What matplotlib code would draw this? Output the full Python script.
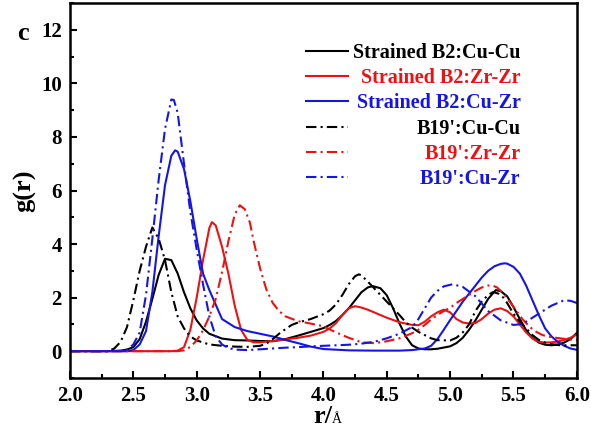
import matplotlib
matplotlib.use('Agg')
import matplotlib.pyplot as plt
from matplotlib.ticker import MultipleLocator

plt.rcParams['font.family'] = ['Liberation Serif', 'DejaVu Serif']
plt.rcParams['font.weight'] = 'bold'

# Strained B2: Cu-Cu (black solid)
r_b2_cucu = [2.0, 2.3, 2.4, 2.45, 2.5, 2.55, 2.6, 2.65, 2.7, 2.75, 2.8, 2.85, 2.9, 2.95,
             3.0, 3.05, 3.1, 3.2, 3.3, 3.4, 3.5, 3.6, 3.7, 3.8, 3.9, 4.0, 4.05, 4.1, 4.15,
             4.2, 4.25, 4.3, 4.35, 4.39, 4.45, 4.5, 4.55, 4.6, 4.65, 4.7, 4.75, 4.8, 4.85,
             4.9, 5.0, 5.05, 5.1, 5.15, 5.2, 5.25, 5.3, 5.36, 5.4, 5.45, 5.5, 5.55, 5.6,
             5.65, 5.7, 5.75, 5.8, 5.85, 5.9, 5.95, 6.0]
g_b2_cucu = [0.0, 0.0, 0.02, 0.06, 0.15, 0.45, 1.1, 1.95, 2.85, 3.45, 3.4, 2.9, 2.2, 1.6,
             1.15, 0.85, 0.65, 0.47, 0.41, 0.4, 0.38, 0.37, 0.45, 0.58, 0.72, 0.86, 0.98, 1.13, 1.35,
             1.6, 1.9, 2.2, 2.38, 2.43, 2.35, 2.09, 1.6, 1.04, 0.55, 0.22, 0.1, 0.07, 0.07,
             0.09, 0.18, 0.3, 0.5, 0.8, 1.15, 1.55, 1.95, 2.28, 2.24, 2.05, 1.65, 1.2, 0.78,
             0.5, 0.32, 0.24, 0.22, 0.25, 0.32, 0.45, 0.68]

# Strained B2: Zr-Zr (red solid)
r_b2_zrzr = [2.0, 2.8, 2.85, 2.9, 2.95, 3.0, 3.05, 3.1, 3.12, 3.15, 3.2, 3.25, 3.3, 3.35,
             3.4, 3.45, 3.5, 3.6, 3.7, 3.8, 3.9, 4.0, 4.05, 4.1, 4.15, 4.2, 4.25, 4.3, 4.35,
             4.4, 4.5, 4.6, 4.7, 4.75, 4.8, 4.85, 4.9, 4.95, 5.0, 5.05, 5.1, 5.15, 5.2, 5.25,
             5.3, 5.35, 5.4, 5.45, 5.5, 5.55, 5.6, 5.65, 5.7, 5.75, 5.8, 5.85, 5.9, 5.95, 6.0]
g_b2_zrzr = [0.0, 0.0, 0.02, 0.15, 0.8, 2.0, 3.4, 4.6, 4.82, 4.7, 3.9, 2.9, 1.7, 0.8,
             0.42, 0.33, 0.33, 0.38, 0.44, 0.5, 0.58, 0.72, 0.85, 1.05, 1.35, 1.6, 1.68, 1.63, 1.55,
             1.45, 1.25, 1.08, 0.98, 0.97, 1.1, 1.3, 1.45, 1.55, 1.45, 1.2, 1.07, 1.03, 1.05, 1.2,
             1.4, 1.55, 1.6, 1.5, 1.3, 1.0, 0.7, 0.47, 0.35, 0.32, 0.33, 0.36, 0.42, 0.5, 0.62]

# Strained B2: Cu-Zr (blue solid)
r_b2_cuzr = [2.0, 2.45, 2.5, 2.55, 2.6, 2.65, 2.7, 2.75, 2.8, 2.83, 2.85, 2.9, 2.95, 3.0,
             3.05, 3.1, 3.2, 3.3, 3.4, 3.5, 3.6, 3.7, 3.8, 3.9, 4.0, 4.2, 4.4, 4.6, 4.7, 4.8,
             4.85, 4.9, 4.95, 5.0, 5.05, 5.1, 5.15, 5.2, 5.25, 5.3, 5.35, 5.4, 5.43, 5.45, 5.5,
             5.55, 5.6, 5.65, 5.7, 5.75, 5.8, 5.85, 5.9, 5.95, 6.0]
g_b2_cuzr = [0.0, 0.0, 0.04, 0.25, 0.75, 2.2, 4.3, 6.2, 7.3, 7.5, 7.45, 6.8, 5.6, 4.2,
             2.9, 2.28, 1.2, 0.9, 0.75, 0.65, 0.55, 0.42, 0.3, 0.17, 0.08, 0.03, 0.02, 0.02, 0.04, 0.1,
             0.2, 0.45, 0.8, 1.16, 1.5, 1.85, 2.15, 2.45, 2.75, 3.0, 3.17, 3.26, 3.28, 3.27, 3.15,
             2.9, 2.45, 1.9, 1.35, 0.85, 0.55, 0.35, 0.2, 0.1, 0.05]

# B19': Cu-Cu (black dash-dot)
r_b19_cucu = [2.0, 2.3, 2.35, 2.4, 2.45, 2.5, 2.55, 2.6, 2.65, 2.7, 2.75, 2.8, 2.85, 2.9,
              2.95, 3.0, 3.1, 3.2, 3.3, 3.4, 3.5, 3.55, 3.6, 3.65, 3.7, 3.75, 3.8, 3.9, 4.0,
              4.05, 4.1, 4.15, 4.2, 4.25, 4.28, 4.3, 4.35, 4.4, 4.45, 4.5, 4.55, 4.6, 4.65,
              4.7, 4.75, 4.8, 4.85, 4.9, 5.0, 5.05, 5.1, 5.15, 5.2, 5.25, 5.3, 5.34, 5.38,
              5.42, 5.45, 5.5, 5.55, 5.6, 5.65, 5.7, 5.75, 5.8, 5.87, 6.0]
g_b19_cucu = [0.0, 0.0, 0.1, 0.35, 0.9, 1.9, 3.0, 3.9, 4.62, 4.2, 3.4, 2.2, 1.3, 0.85,
              0.55, 0.4, 0.25, 0.2, 0.17, 0.16, 0.2, 0.28, 0.45, 0.65, 0.82, 0.98, 1.07, 1.2, 1.38,
              1.52, 1.75, 2.1, 2.5, 2.8, 2.87, 2.83, 2.6, 2.35, 2.1, 1.85, 1.6, 1.35, 1.08,
              0.88, 0.72, 0.6, 0.48, 0.41, 0.4, 0.5, 0.7, 1.0, 1.5, 1.85, 2.1, 2.21, 2.15,
              2.0, 1.8, 1.4, 1.1, 0.85, 0.6, 0.42, 0.32, 0.26, 0.22, 0.22]

# B19': Zr-Zr (red dash-dot)
r_b19_zrzr = [2.0, 2.85, 2.9, 2.95, 3.0, 3.05, 3.1, 3.15, 3.2, 3.25, 3.3, 3.34, 3.38, 3.42,
              3.45, 3.5, 3.55, 3.6, 3.65, 3.7, 3.8, 3.9, 4.0, 4.1, 4.2, 4.3, 4.4, 4.5, 4.6,
              4.7, 4.75, 4.8, 4.85, 4.9, 4.95, 5.0, 5.05, 5.1, 5.15, 5.2, 5.25, 5.3, 5.33,
              5.37, 5.42, 5.47, 5.52, 5.57, 5.63, 5.68, 5.73, 5.8, 5.87, 5.95, 6.0]
g_b19_zrzr = [0.0, 0.0, 0.03, 0.16, 0.4, 0.78, 1.3, 1.95, 2.95, 4.1, 5.1, 5.45, 5.3, 4.8,
              4.1, 3.1, 2.3, 1.8, 1.5, 1.3, 1.12, 1.03, 0.93, 0.7, 0.5, 0.33, 0.3, 0.37, 0.48,
              0.67, 0.8, 0.98, 1.18, 1.35, 1.5, 1.62, 1.8, 1.95, 2.1, 2.25, 2.38, 2.45, 2.46,
              2.38, 2.16, 1.85, 1.53, 1.2, 0.9, 0.72, 0.6, 0.52, 0.48, 0.43, 0.42]

# B19': Cu-Zr (blue dash-dot)
r_b19_cuzr = [2.0, 2.4, 2.45, 2.5, 2.55, 2.6, 2.65, 2.7, 2.75, 2.8, 2.82, 2.85, 2.9, 2.95,
              3.0, 3.05, 3.1, 3.15, 3.2, 3.25, 3.3, 3.4, 3.5, 3.6, 3.7, 3.8, 3.9, 4.0, 4.1,
              4.2, 4.3, 4.4, 4.5, 4.6, 4.7, 4.75, 4.8, 4.85, 4.9, 4.95, 5.02, 5.1, 5.2, 5.3,
              5.4, 5.5, 5.55, 5.6, 5.7, 5.8, 5.9, 5.95, 6.0]
g_b19_cuzr = [0.0, 0.0, 0.05, 0.25, 0.7, 2.1, 4.2, 6.4, 8.3, 9.4, 9.38, 8.9, 7.0, 5.2,
              3.8, 2.5, 1.3, 0.55, 0.25, 0.12, 0.06, 0.04, 0.07, 0.1, 0.13, 0.15, 0.18, 0.2, 0.22,
              0.24, 0.28, 0.35, 0.48, 0.65, 0.9, 1.2, 1.6, 2.0, 2.25, 2.42, 2.5, 2.4, 2.05, 1.5,
              1.15, 0.98, 1.0, 1.1, 1.4, 1.7, 1.9, 1.88, 1.8]

BLACK = '#000000'
RED = '#ee1111'
BLUE = '#1515e6'
DASHDOT = (5, 2, 1, 2)

fig = plt.figure(figsize=(5.91, 4.41), dpi=100)
ax = fig.add_axes([0.1184, 0.143, 0.8576, 0.850])

lw = 1.5
ax.plot(r_b2_cucu, g_b2_cucu, color=BLACK, lw=lw, label='Strained B2:Cu-Cu')
ax.plot(r_b2_zrzr, g_b2_zrzr, color=RED, lw=lw, label='Strained B2:Zr-Zr')
ax.plot(r_b2_cuzr, g_b2_cuzr, color=BLUE, lw=lw, label='Strained B2:Cu-Zr')
ax.plot(r_b19_cucu, g_b19_cucu, color=BLACK, lw=lw, dashes=DASHDOT, label="B19':Cu-Cu")
ax.plot(r_b19_zrzr, g_b19_zrzr, color=RED, lw=lw, dashes=DASHDOT, label="B19':Zr-Zr")
ax.plot(r_b19_cuzr, g_b19_cuzr, color=BLUE, lw=lw, dashes=DASHDOT, label="B19':Cu-Zr")

ax.set_xlim(2.0, 6.0)
ax.set_ylim(-1, 13)
ax.xaxis.set_minor_locator(MultipleLocator(0.25))
ax.yaxis.set_minor_locator(MultipleLocator(1))
ax.set_xticks([2.0, 2.5, 3.0, 3.5, 4.0, 4.5, 5.0, 5.5, 6.0])
ax.set_xticklabels(['2.0', '2.5', '3.0', '3.5', '4.0', '4.5', '5.0', '5.5', '6.0'])
ax.set_yticks([0, 2, 4, 6, 8, 10, 12])
ax.tick_params(which='both', direction='in', top=False, right=False, width=1.5, labelsize=15, pad=6)
ax.tick_params(which='major', length=5)
ax.tick_params(which='minor', length=3)
for s in ax.spines.values():
    s.set_linewidth(1.8)

ax.set_ylabel('g(r)', fontsize=19, fontweight='bold', labelpad=3)
fig.text(0.547, 0.040, 'r/', fontsize=19, fontweight='bold', ha='center', va='baseline')
fig.text(0.561, 0.040, 'Å', fontsize=10, fontweight='normal', ha='left', va='baseline')
fig.text(0.038, 0.909, 'c', fontsize=19, fontweight='bold', ha='center', va='baseline')

leg = ax.legend(loc='upper left', bbox_to_anchor=(0.449, 0.915), frameon=False,
                fontsize=14.5, handlelength=2.1, handletextpad=0.25, labelspacing=0.26,
                borderaxespad=0)
colors = [BLACK, RED, BLUE, BLACK, RED, BLUE]
for t, c in zip(leg.get_texts(), colors):
    t.set_color(c)
    t.set_fontweight('bold')

# right-align legend labels like the original (offset in pixels)
fig.canvas.draw()
renderer = fig.canvas.get_renderer()
widths = [t.get_window_extent(renderer).width for t in leg.get_texts()]
wmax = max(widths)
for t, w in zip(leg.get_texts(), widths):
    t.set_position((wmax - w, 0))

fig.savefig('out.png', dpi=100)
